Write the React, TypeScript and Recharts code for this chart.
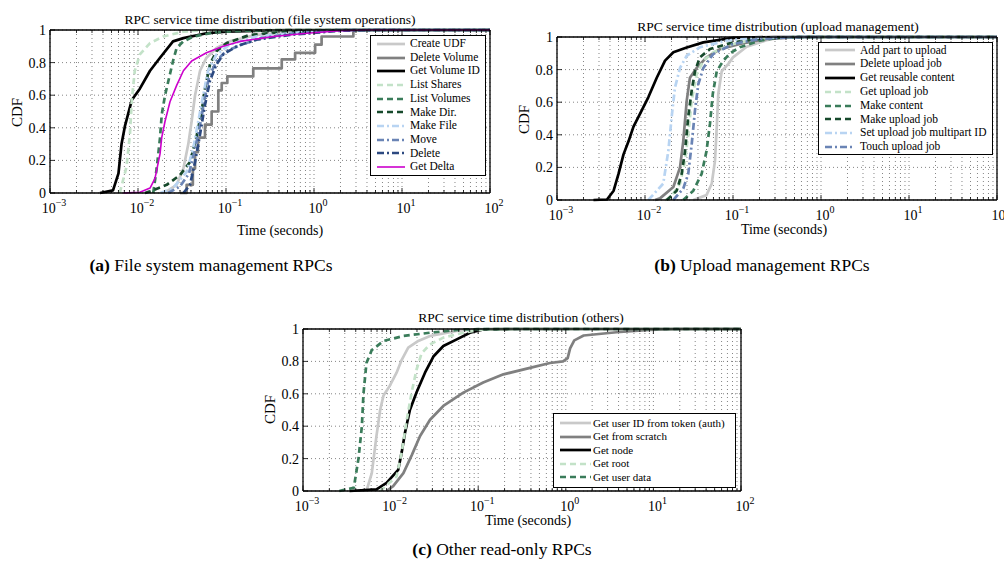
import { LineChart, Line, XAxis, YAxis, CartesianGrid } from "recharts";

// x axis ticks (log scale): decades get a label, the rest are minor ticks
const decadeTicks = [0.001, 0.01, 0.1, 1, 10, 100];
const minorMultipliers = [2, 3, 4, 5, 6, 7, 8, 9];
const yTicks = [0, 0.2, 0.4, 0.6, 0.8, 1];
const yTickLabels = ["0", "0.2", "0.4", "0.6", "0.8", "1"];

const xTicks = [
  ...decadeTicks,
  ...decadeTicks.slice(0, -1).flatMap((d) => minorMultipliers.map((m) => m * d)),
].sort((a, b) => a - b);

// (a) file system operations — [seconds, CDF]
const fsNames = ["Create UDF", "Delete Volume", "Get Volume ID", "List Shares", "List Volumes", "Make Dir.", "Make File", "Move", "Delete", "Get Delta"];
const createUdf = [[0.019, 0], [0.0212, 0.01], [0.0275, 0.05], [0.0328, 0.15], [0.0373, 0.3], [0.0407, 0.44], [0.0445, 0.6], [0.0507, 0.75], [0.06, 0.83], [0.078, 0.89], [0.11, 0.93], [0.22, 0.97], [0.83, 0.995], [3, 1], [100, 1]];
const deleteVolume = [[0.03, 0], [0.0357, 0.05], [0.042, 0.15], [0.0445, 0.25], [0.048, 0.34], [0.0577, 0.42], [0.0687, 0.5], [0.0818, 0.63], [0.0894, 0.675], [0.1035, 0.715], [0.204, 0.765], [0.43, 0.82], [0.61, 0.86], [1.03, 0.91], [1.22, 0.96], [2.8, 1], [100, 1]];
const getVolumeId = [[0.0037, 0], [0.0052, 0.016], [0.006, 0.12], [0.0065, 0.3], [0.0071, 0.41], [0.0085, 0.57], [0.0105, 0.64], [0.0137, 0.75], [0.0178, 0.83], [0.025, 0.93], [0.0328, 0.95], [0.06, 0.98], [0.1, 0.99], [0.5, 1], [100, 1]];
const listShares = [[0.0062, 0], [0.0074, 0.16], [0.0081, 0.36], [0.0085, 0.57], [0.0092, 0.75], [0.0105, 0.85], [0.0137, 0.92], [0.0194, 0.96], [0.0328, 0.99], [0.06, 1], [100, 1]];
const listVolumes = [[0.0149, 0], [0.0163, 0.15], [0.0178, 0.34], [0.0186, 0.48], [0.0203, 0.6], [0.0231, 0.73], [0.025, 0.81], [0.0275, 0.89], [0.0328, 0.93], [0.0427, 0.96], [0.0718, 0.985], [0.144, 0.995], [0.4, 1], [100, 1]];
const makeDir = [[0.012, 0], [0.0137, 0.01], [0.0212, 0.05], [0.03, 0.11], [0.039, 0.19], [0.046, 0.34], [0.0528, 0.5], [0.0577, 0.64], [0.0658, 0.79], [0.078, 0.87], [0.102, 0.92], [0.187, 0.97], [0.5, 0.99], [2, 1], [100, 1]];
const makeFile = [[0.018, 0], [0.025, 0.03], [0.0357, 0.13], [0.0427, 0.28], [0.0484, 0.44], [0.0551, 0.6], [0.0625, 0.75], [0.078, 0.85], [0.11, 0.91], [0.22, 0.96], [0.83, 0.99], [3, 1], [100, 1]];
const moveOp = [[0.022, 0], [0.03, 0.04], [0.038, 0.12], [0.0445, 0.27], [0.05, 0.4], [0.057, 0.57], [0.064, 0.71], [0.078, 0.81], [0.1, 0.87], [0.15, 0.91], [0.25, 0.95], [0.6, 0.98], [2, 1], [100, 1]];
const deleteOp = [[0.0328, 0], [0.039, 0.05], [0.0445, 0.19], [0.0507, 0.36], [0.0577, 0.54], [0.0658, 0.69], [0.078, 0.79], [0.093, 0.85], [0.132, 0.9], [0.22, 0.94], [0.53, 0.97], [1.97, 0.995], [5, 1], [100, 1]];
const getDelta = [[0.0068, 0], [0.0105, 0.005], [0.0137, 0.03], [0.0156, 0.09], [0.0178, 0.24], [0.0186, 0.34], [0.0203, 0.44], [0.0231, 0.56], [0.0275, 0.66], [0.0328, 0.75], [0.0407, 0.81], [0.06, 0.86], [0.093, 0.9], [0.144, 0.93], [0.344, 0.96], [0.83, 0.98], [1.97, 0.995], [4, 1], [100, 1]];

// (b) upload management
const upNames = ["Add part to upload", "Delete upload job", "Get reusable content", "Get upload job", "Make content", "Make upload job", "Set upload job multipart ID", "Touch upload job"];
const addPart = [[0.0354, 0], [0.05, 0.03], [0.0573, 0.1], [0.0624, 0.24], [0.0654, 0.45], [0.068, 0.65], [0.0744, 0.79], [0.0885, 0.835], [0.1, 0.875], [0.143, 0.94], [0.24, 0.98], [0.35, 0.998], [1, 1], [100, 1]];
const deleteUpload = [[0.013, 0], [0.0148, 0.01], [0.021, 0.08], [0.025, 0.2], [0.0272, 0.36], [0.0298, 0.61], [0.0324, 0.75], [0.0386, 0.81], [0.05, 0.875], [0.071, 0.925], [0.12, 0.957], [0.24, 0.988], [0.6, 1], [100, 1]];
const getReusable = [[0.0026, 0], [0.0037, 0.003], [0.0044, 0.057], [0.005, 0.16], [0.0057, 0.28], [0.0065, 0.36], [0.0074, 0.45], [0.0088, 0.53], [0.0109, 0.63], [0.0136, 0.75], [0.0169, 0.855], [0.021, 0.906], [0.0298, 0.936], [0.046, 0.967], [0.1, 0.995], [0.3, 1], [100, 1]];
const getUploadJob = [[0.017, 0], [0.0192, 0.01], [0.025, 0.1], [0.0285, 0.24], [0.031, 0.4], [0.0339, 0.61], [0.0386, 0.77], [0.046, 0.855], [0.0597, 0.906], [0.1, 0.957], [0.2, 0.99], [0.5, 1], [100, 1]];
const makeContent = [[0.0272, 0], [0.0354, 0.057], [0.044, 0.16], [0.05, 0.3], [0.0548, 0.47], [0.0589, 0.65], [0.0654, 0.79], [0.0777, 0.855], [0.0925, 0.9], [0.12, 0.937], [0.203, 0.978], [0.35, 0.998], [1, 1], [100, 1]];
const makeUpload = [[0.0177, 0], [0.0229, 0.057], [0.0261, 0.16], [0.0285, 0.3], [0.031, 0.51], [0.0339, 0.67], [0.037, 0.79], [0.042, 0.875], [0.0548, 0.926], [0.1, 0.967], [0.2, 0.99], [0.6, 1], [100, 1]];
const setMultipart = [[0.0109, 0], [0.0161, 0.1], [0.0184, 0.3], [0.0201, 0.51], [0.0219, 0.69], [0.025, 0.81], [0.0298, 0.885], [0.042, 0.937], [0.085, 0.978], [0.17, 0.995], [0.5, 1], [100, 1]];
const touchUpload = [[0.021, 0], [0.0272, 0.07], [0.031, 0.16], [0.0339, 0.34], [0.037, 0.55], [0.0403, 0.71], [0.046, 0.81], [0.0597, 0.896], [0.1, 0.957], [0.2, 0.988], [0.6, 1], [100, 1]];

// (c) others
const otherNames = ["Get user ID from token (auth)", "Get from scratch", "Get node", "Get root", "Get user data"];
const getUserId = [[0.0053, 0], [0.0061, 0.11], [0.0069, 0.34], [0.0076, 0.5], [0.0083, 0.59], [0.0098, 0.65], [0.0117, 0.73], [0.0134, 0.81], [0.0159, 0.885], [0.0207, 0.926], [0.0282, 0.957], [0.0569, 0.988], [0.1, 1], [100, 1]];
const getFromScratch = [[0.009, 0], [0.0107, 0.03], [0.014, 0.11], [0.0174, 0.22], [0.0217, 0.34], [0.0282, 0.44], [0.04, 0.525], [0.0676, 0.607], [0.114, 0.67], [0.194, 0.72], [0.39, 0.76], [0.66, 0.79], [0.93, 0.8], [1.05, 0.82], [1.12, 0.88], [1.25, 0.93], [1.6, 0.96], [3.8, 0.98], [9, 0.995], [20, 1], [100, 1]];
const getNode = [[0.0034, 0], [0.0069, 0.01], [0.009, 0.05], [0.0122, 0.13], [0.0134, 0.24], [0.0146, 0.36], [0.0166, 0.5], [0.0198, 0.61], [0.0247, 0.73], [0.0308, 0.83], [0.04, 0.895], [0.0569, 0.936], [0.0805, 0.977], [0.114, 0.998], [0.3, 1], [100, 1]];
const getRoot = [[0.0076, 0], [0.0117, 0.09], [0.0134, 0.24], [0.0153, 0.44], [0.0174, 0.61], [0.0198, 0.75], [0.0226, 0.85], [0.0282, 0.905], [0.04, 0.947], [0.0676, 0.977], [0.114, 0.998], [0.3, 1], [100, 1]];
const getUserData = [[0.0026, 0], [0.0038, 0.02], [0.0043, 0.2], [0.0047, 0.4], [0.0049, 0.6], [0.0053, 0.79], [0.0061, 0.87], [0.0083, 0.926], [0.014, 0.957], [0.0282, 0.977], [0.0676, 0.998], [0.2, 1], [100, 1]];

const FONT = "'Liberation Serif', 'Times New Roman', serif";
const DASH = "6 4";
const DASHDOT = "7 3 2 3";

const lineStyles: Record<string, { stroke: string; width: number; dash?: string }> = {
  lightGray: { stroke: "#c9c9c9", width: 2.7 },
  gray: { stroke: "#808080", width: 2.7 },
  black: { stroke: "#000000", width: 2.7 },
  lightGreen: { stroke: "#c3e2c8", width: 2.7, dash: DASH },
  midGreen: { stroke: "#3a7c5a", width: 2.7, dash: DASH },
  darkGreen: { stroke: "#174a2c", width: 2.7, dash: DASH },
  lightBlue: { stroke: "#b8d4f2", width: 2.7, dash: DASHDOT },
  midBlue: { stroke: "#6a84b5", width: 2.7, dash: DASHDOT },
  darkBlue: { stroke: "#2c4980", width: 2.7, dash: DASHDOT },
  magenta: { stroke: "#cc00cc", width: 1.6 },
};

type Series = { name: string; style: string; points: number[][]; step?: boolean };

const fsSeries: Series[] = [
  { name: fsNames[0], style: "lightGray", points: createUdf },
  { name: fsNames[1], style: "gray", points: deleteVolume, step: true },
  { name: fsNames[2], style: "black", points: getVolumeId },
  { name: fsNames[3], style: "lightGreen", points: listShares },
  { name: fsNames[4], style: "midGreen", points: listVolumes },
  { name: fsNames[5], style: "darkGreen", points: makeDir },
  { name: fsNames[6], style: "lightBlue", points: makeFile },
  { name: fsNames[7], style: "midBlue", points: moveOp },
  { name: fsNames[8], style: "darkBlue", points: deleteOp },
  { name: fsNames[9], style: "magenta", points: getDelta },
];

const upSeries: Series[] = [
  { name: upNames[0], style: "lightGray", points: addPart },
  { name: upNames[1], style: "gray", points: deleteUpload },
  { name: upNames[2], style: "black", points: getReusable },
  { name: upNames[3], style: "lightGreen", points: getUploadJob },
  { name: upNames[4], style: "midGreen", points: makeContent },
  { name: upNames[5], style: "darkGreen", points: makeUpload },
  { name: upNames[6], style: "lightBlue", points: setMultipart },
  { name: upNames[7], style: "midBlue", points: touchUpload },
];

const otherSeries: Series[] = [
  { name: otherNames[0], style: "lightGray", points: getUserId },
  { name: otherNames[1], style: "gray", points: getFromScratch },
  { name: otherNames[2], style: "black", points: getNode },
  { name: otherNames[3], style: "lightGreen", points: getRoot },
  { name: otherNames[4], style: "midGreen", points: getUserData },
];

const isDecade = (v: number) => Math.abs(Math.log10(v) - Math.round(Math.log10(v))) < 1e-6;

function BottomTick(props: any) {
  const { x, y, payload } = props;
  const major = isDecade(payload.value);
  const exp = Math.round(Math.log10(payload.value));
  return (
    <g>
      <line x1={x} x2={x} y1={y} y2={y - (major ? 5 : 3)} stroke="#000" strokeWidth={0.8} />
      {major && (
        <text x={x + 4} y={y + 20} textAnchor="middle" fontSize={14} fontFamily={FONT} fill="#000">
          <tspan>10</tspan>
          <tspan dy={-7} fontSize={10}>{exp < 0 ? "\u2212" + -exp : String(exp)}</tspan>
        </text>
      )}
    </g>
  );
}

function TopTick(props: any) {
  const { x, y, payload } = props;
  const major = isDecade(payload.value);
  return <line x1={x} x2={x} y1={y} y2={y + (major ? 5 : 3)} stroke="#000" strokeWidth={0.8} />;
}

function LeftTick(props: any) {
  const { x, y, payload, index } = props;
  return (
    <g>
      <line x1={x} x2={x + 5} y1={y} y2={y} stroke="#000" strokeWidth={0.8} />
      <text x={x - 4} y={y + 5} textAnchor="end" fontSize={14} fontFamily={FONT} fill="#000">
        {yTickLabels[index] ?? String(payload.value)}
      </text>
    </g>
  );
}

function RightTick(props: any) {
  const { x, y } = props;
  return <line x1={x} x2={x - 5} y1={y} y2={y} stroke="#000" strokeWidth={0.8} />;
}

type Box = { left: number; top: number; width: number; height: number };
type Plot = { x0: number; y0: number; x1: number; y1: number };

function LegendBox({ series, left, top, width, rowH, fontSize, padLeft, sampleW, gap, padTop }: any) {
  return (
    <div
      style={{
        position: "absolute",
        left,
        top,
        width,
        boxSizing: "border-box",
        border: "1.5px solid #000",
        background: "#fff",
        paddingTop: padTop,
        paddingBottom: padTop,
        paddingLeft: padLeft,
      }}
    >
      {series.map((s: Series) => {
        const st = lineStyles[s.style];
        return (
          <div key={s.name} style={{ display: "flex", alignItems: "center", height: rowH }}>
            <svg width={sampleW} height={6} style={{ flex: "none" }}>
              <line x1={0} x2={sampleW} y1={3} y2={3} stroke={st.stroke} strokeWidth={st.width} strokeDasharray={st.dash} />
            </svg>
            <span style={{ marginLeft: gap, fontSize, fontFamily: FONT, whiteSpace: "nowrap", lineHeight: 1 }}>{s.name}</span>
          </div>
        );
      })}
    </div>
  );
}

// axes are 1px thick so that Recharts still renders them
const AX = 1;

function Panel({ box, plot, series }: { box: Box; plot: Plot; series: Series[] }) {
  const margin = {
    top: plot.y0 - box.top - AX,
    left: plot.x0 - box.left - AX,
    right: box.left + box.width - plot.x1 - AX,
    bottom: box.top + box.height - plot.y1 - AX,
  };
  const axisLine = { stroke: "#000", strokeWidth: 1.3 };
  return (
    <div style={{ position: "absolute", left: box.left, top: box.top }}>
      <LineChart width={box.width} height={box.height} margin={margin}>
        <CartesianGrid stroke="#666" strokeDasharray="1 3" strokeWidth={0.8} />
        <XAxis
          dataKey="t"
          type="number"
          scale="log"
          domain={[0.001, 100]}
          allowDataOverflow
          ticks={xTicks}
          interval={0}
          height={AX}
          tickSize={0}
          tickMargin={0}
          tickLine={false}
          tick={<BottomTick />}
          axisLine={axisLine}
        />
        <XAxis
          xAxisId="top"
          orientation="top"
          dataKey="t"
          type="number"
          scale="log"
          domain={[0.001, 100]}
          allowDataOverflow
          ticks={xTicks}
          interval={0}
          height={AX}
          tickSize={0}
          tickMargin={0}
          tickLine={false}
          tick={<TopTick />}
          axisLine={axisLine}
        />
        <YAxis
          type="number"
          domain={[0, 1]}
          ticks={yTicks}
          interval={0}
          width={AX}
          tickSize={0}
          tickMargin={0}
          tickLine={false}
          tick={<LeftTick />}
          axisLine={axisLine}
        />
        <YAxis
          yAxisId="right"
          orientation="right"
          type="number"
          domain={[0, 1]}
          ticks={yTicks}
          interval={0}
          width={AX}
          tickSize={0}
          tickMargin={0}
          tickLine={false}
          tick={<RightTick />}
          axisLine={axisLine}
        />
        {series.map((s) => {
          const st = lineStyles[s.style];
          return (
            <Line
              key={s.name}
              name={s.name}
              data={s.points.map(([t, v]) => ({ t, v }))}
              dataKey="v"
              type={s.step ? "stepAfter" : "linear"}
              stroke={st.stroke}
              strokeWidth={st.width}
              strokeDasharray={st.dash}
              strokeLinejoin="round"
              dot={false}
              activeDot={false}
              isAnimationActive={false}
            />
          );
        })}
      </LineChart>
    </div>
  );
}

function Label({ text, cx, cy, size, rotate }: any) {
  return (
    <div
      style={{
        position: "absolute",
        left: cx - 300,
        top: cy - size / 2,
        width: 600,
        textAlign: "center",
        fontSize: size,
        lineHeight: 1,
        fontFamily: FONT,
        whiteSpace: "nowrap",
        transform: rotate ? "rotate(-90deg)" : undefined,
      }}
    >
      {text}
    </div>
  );
}

function Caption({ tag, text, cx, cy }: any) {
  return (
    <div
      style={{
        position: "absolute",
        left: cx - 300,
        top: cy - 9,
        width: 600,
        textAlign: "center",
        fontSize: 17.5,
        lineHeight: 1,
        fontFamily: FONT,
        whiteSpace: "nowrap",
      }}
    >
      <b>({tag})</b> {text}
    </div>
  );
}

export default function App() {
  return (
    <div
      style={{
        position: "absolute",
        left: 0,
        top: 0,
        width: 1004,
        height: 567,
        overflow: "hidden",
        background: "#fff",
        color: "#000",
      }}
    >
      <Panel box={{ left: 0, top: 0, width: 512, height: 240 }} plot={{ x0: 50, y0: 30, x1: 490, y1: 193 }} series={fsSeries} />
      <Panel box={{ left: 505, top: 0, width: 499, height: 240 }} plot={{ x0: 557, y0: 37, x1: 997, y1: 200 }} series={upSeries} />
      <Panel box={{ left: 250, top: 300, width: 514, height: 220 }} plot={{ x0: 303, y0: 329, x1: 741, y1: 491 }} series={otherSeries} />

      <Label text="RPC service time distribution (file system operations)" cx={270} cy={20} size={13.5} />
      <Label text="RPC service time distribution (upload management)" cx={778} cy={27} size={13.5} />
      <Label text="RPC service time distribution (others)" cx={521} cy={318} size={13.5} />

      <Label text="Time (seconds)" cx={280} cy={231} size={14} />
      <Label text="Time (seconds)" cx={784} cy={230} size={14} />
      <Label text="Time (seconds)" cx={528} cy={521} size={14} />

      <Label text="CDF" cx={17} cy={112} size={15} rotate />
      <Label text="CDF" cx={524} cy={119} size={15} rotate />
      <Label text="CDF" cx={270} cy={409} size={15} rotate />

      <LegendBox series={fsSeries} left={370} top={35} width={116} rowH={13.7} fontSize={11.5} padLeft={6} sampleW={28} gap={5} padTop={1} />
      <LegendBox series={upSeries} left={818} top={42} width={175} rowH={13.8} fontSize={11.5} padLeft={6} sampleW={30} gap={5} padTop={0.5} />
      <LegendBox series={otherSeries} left={553} top={413} width={183} rowH={13.5} fontSize={11} padLeft={6} sampleW={31} gap={2} padTop={2.5} />

      <Caption tag="a" text="File system management RPCs" cx={211} cy={266} />
      <Caption tag="b" text="Upload management RPCs" cx={762} cy={266} />
      <Caption tag="c" text="Other read-only RPCs" cx={502} cy={550} />
    </div>
  );
}
